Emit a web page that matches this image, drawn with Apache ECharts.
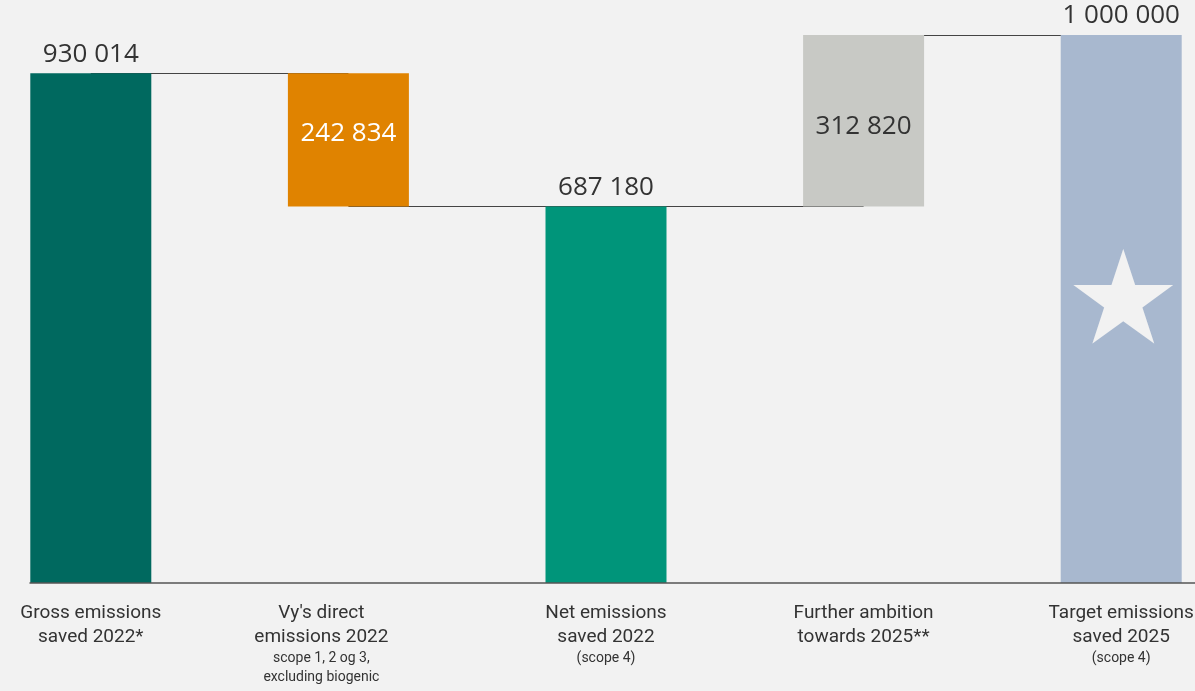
<!DOCTYPE html>
<html>
<head>
<meta charset="utf-8">
<script src="https://cdn.jsdelivr.net/npm/echarts@6/dist/echarts.min.js"></script>
<style>
html,body{margin:0;padding:0;background:#f2f2f2;overflow:hidden;width:1195px;height:691px;}
#chart{width:1288px;height:691px;margin-left:-38px;}
</style>
</head>
<body>
<div id="chart"></div>
<script>
// ---- data ----
const categories = ["Gross emissions\nsaved 2022*", "Vy's direct\nemissions 2022", "Net emissions\nsaved 2022", "Further ambition\ntowards 2025**", "Target emissions\nsaved 2025"];
const categoryNotes = ["", "scope 1, 2 og 3,\nexcluding biogenic", "(scope 4)", "", "(scope 4)"];
const barValues = [930014, 242834, 687180, 312820, 1000000];
const barBases = [0, 687180, 0, 687180, 0];
const labelInside = [false, true, false, true, false];
// ---- styles ----
const barColors = ['#00695f', '#e08300', '#00957a', '#c8c9c5', '#a8b8cf'];
const insideLabelColors = ['#333', '#ffffff', '#333', '#333333', '#333'];
const insideLabelOffsets = [0, -6, 0, 6, 0];

function fmt(v) { return String(v).replace(/\B(?=(\d{3})+(?!\d))/g, ' '); }

const chart = echarts.init(document.getElementById('chart'));
const valueFont = 'Open Sans';

chart.setOption({
  backgroundColor: '#f2f2f2',
  animation: false,
  grid: [
    { left: 0, right: 0, top: 35, bottom: 108 },
    { left: 68, right: 55, top: 35, bottom: 108 }
  ],
  xAxis: [
    {
      type: 'category',
      gridIndex: 0,
      data: categories,
      axisLine: { show: false },
      axisTick: { show: false },
      axisLabel: {
        interval: 0,
        margin: 18,
        verticalAlign: 'top',
        formatter: function (v, i) {
          const sa = i === 1 ? 'a2' : 'a';
          const sb = i === 1 ? 'b2' : 'b';
          let s = categories[i].split('\n').map(t => '{' + sa + '|' + t + '}').join('\n');
          if (categoryNotes[i]) s += '\n' + categoryNotes[i].split('\n').map(t => '{' + sb + '|' + t + '}').join('\n');
          return s;
        },
        rich: {
          a: { fontFamily: 'Roboto', fontSize: 19, lineHeight: 24, color: '#333' },
          b: { fontFamily: 'Roboto', fontSize: 14, lineHeight: 19, color: '#333' },
          a2: { fontFamily: 'Roboto', fontSize: 19, lineHeight: 24, color: '#333', padding: [0, 54, 0, 0] },
          b2: { fontFamily: 'Roboto', fontSize: 14, lineHeight: 19, color: '#333', padding: [0, 54, 0, 0] }
        }
      }
    },
    {
      type: 'value',
      gridIndex: 1,
      min: 0,
      max: 1,
      z: 5,
      splitLine: { show: false },
      axisTick: { show: false },
      axisLabel: { show: false },
      axisLine: { show: true, lineStyle: { color: '#555', width: 1.5 } }
    }
  ],
  yAxis: [
    { type: 'value', gridIndex: 0, min: 0, max: 1000000, show: false },
    { type: 'value', gridIndex: 1, min: 0, max: 1, show: false }
  ],
  series: [
    {
      type: 'bar',
      stack: 'w',
      barWidth: 121,
      silent: true,
      itemStyle: { color: 'transparent' },
      data: barBases,
      markLine: {
        z: 1,
        silent: true,
        symbol: 'none',
        label: { show: false },
        lineStyle: { color: '#444', width: 1.2, type: 'solid' },
        data: [
          [{ coord: [0, barValues[0]] }, { coord: [1, barValues[0]] }],
          [{ coord: [1, barBases[1]] }, { coord: [3, barBases[3]] }],
          [{ coord: [3, barValues[4]] }, { coord: [4, barValues[4]] }]
        ]
      }
    },
    {
      type: 'bar',
      stack: 'w',
      barWidth: 121,
      z: 3,
      data: barValues.map((v, i) => ({
        value: v,
        itemStyle: { color: barColors[i] },
        label: labelInside[i]
          ? { show: true, position: 'inside', color: insideLabelColors[i], fontFamily: valueFont, fontSize: 26, offset: [0, insideLabelOffsets[i]] }
          : { show: true, position: 'top', distance: 6, color: '#333', fontFamily: valueFont, fontSize: 26 }
      })),
      label: { formatter: p => fmt(p.value) }
    },
    {
      type: 'bar',
      barWidth: 121,
      barGap: '-100%',
      z: 4,
      silent: true,
      itemStyle: { color: 'transparent' },
      data: barValues.map((v, i) => i === 4 ? v : '-'),
      label: {
        show: true,
        position: 'inside',
        formatter: '★',
        fontFamily: 'DejaVu Sans',
        fontSize: 130,
        color: '#f2f2f2',
        offset: [2, 0]
      }
    },
    {
      type: 'line',
      xAxisIndex: 1,
      yAxisIndex: 1,
      silent: true,
      symbol: 'none',
      data: []
    }
  ]
});
</script>
</body>
</html>
